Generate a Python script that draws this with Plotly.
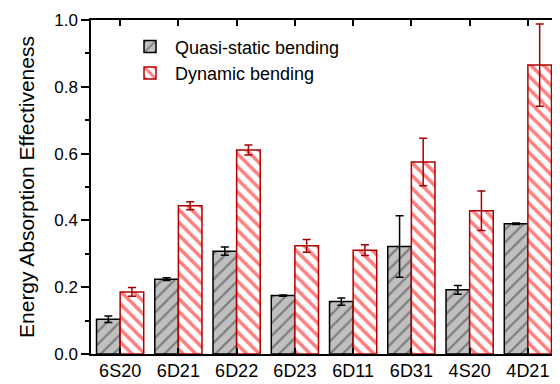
import plotly.graph_objects as go

categories = ["6S20", "6D21", "6D22", "6D23", "6D11", "6D31", "4S20", "4D21"]
quasi = [0.104, 0.224, 0.308, 0.175, 0.157, 0.322, 0.192, 0.390]
quasi_err = [0.010, 0.004, 0.012, 0.002, 0.011, 0.092, 0.013, 0.002]
dyn = [0.186, 0.444, 0.611, 0.324, 0.311, 0.575, 0.429, 0.865]
dyn_err = [0.013, 0.012, 0.015, 0.019, 0.016, 0.071, 0.059, 0.123]

FONT = "Liberation Sans, Arial, sans-serif"

fig = go.Figure()
fig.add_trace(go.Bar(
    x=categories, y=quasi, name="Quasi-static bending",
    marker=dict(color="#c0c0c0", line=dict(color="#000000", width=1.5),
                pattern=dict(shape="/", fgcolor="#3a3a3a", bgcolor="#c0c0c0",
                             size=9, solidity=0.25)),
    error_y=dict(type="data", array=quasi_err, color="#000000", thickness=1.5, width=4),
))
fig.add_trace(go.Bar(
    x=categories, y=dyn, name="Dynamic bending",
    marker=dict(color="#ffffff", line=dict(color="#b00000", width=1.5),
                pattern=dict(shape="\\", fgcolor="#ff0000", bgcolor="#ffffff",
                             size=9, solidity=0.4)),
    error_y=dict(type="data", array=dyn_err, color="#a00000", thickness=1.5, width=4),
))

fig.update_layout(
    width=552, height=376,
    margin=dict(l=83, r=3, t=10, b=27),
    paper_bgcolor="white", plot_bgcolor="white",
    barmode="group", bargap=0.19, bargroupgap=0,
    font=dict(family=FONT, size=17, color="#000000"),
    showlegend=True,
    legend=dict(x=0.073, y=0.975, xanchor="left", yanchor="top",
                bgcolor="rgba(0,0,0,0)", font=dict(size=18),
                itemwidth=40, tracegroupgap=0),
    xaxis=dict(range=[-0.5, 7.5], showline=True, linecolor="#000", linewidth=1.5,
               ticks="inside", ticklen=6, tickwidth=1.5, tickcolor="#000",
               mirror="ticks", showgrid=False, zeroline=False,
               tickfont=dict(size=18)),
    yaxis=dict(range=[0, 1.0], dtick=0.2, tick0=0, tickformat=".1f",
               showline=True, linecolor="#000", linewidth=1.5,
               ticks="outside", ticklen=8, tickwidth=1.5, tickcolor="#000",
               minor=dict(ticks="outside", ticklen=4, tickwidth=1.5, dtick=0.1, tickcolor="#000"),
               showgrid=False, zeroline=False,
               title=dict(text="Energy Absorption Effectiveness", font=dict(size=21), standoff=14),
               tickfont=dict(size=17)),
    yaxis2=dict(range=[0, 1.0], overlaying="y", side="right", dtick=0.2, tick0=0,
                showline=True, linecolor="#000", linewidth=1.5,
                ticks="inside", ticklen=8, tickwidth=1.5, tickcolor="#000",
                minor=dict(ticks="inside", ticklen=4, tickwidth=1.5, dtick=0.1, tickcolor="#000"),
                showticklabels=False, showgrid=False, zeroline=False),
)

fig.write_html("out.html")
